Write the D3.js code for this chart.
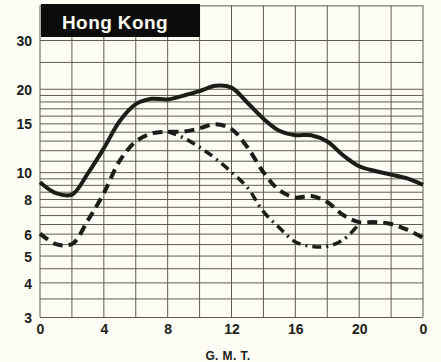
<!DOCTYPE html>
<html>
<head>
<meta charset="utf-8">
<script src="https://cdn.jsdelivr.net/npm/d3@7"></script>
<style>
  body { margin: 0; background: #fdfdf6; }
  svg { display: block; }
  .tick text { font-family: "Liberation Sans", Arial, sans-serif; font-weight: bold; fill: #1c1c18; }
</style>
</head>
<body>
<div id="chart"></div>
<script>
// hours GMT
const hours = d3.range(0, 25);
// upper curve (solid)
const solidVals = [9.2, 8.4, 8.3, 9.9, 12.2, 15.3, 17.6, 18.4, 18.3, 18.9, 19.6, 20.5, 20.2, 17.8, 15.6, 14.1, 13.6, 13.6, 12.9, 11.5, 10.5, 10.1, 9.8, 9.5, 9.0];
// dashed curve
const dashedVals = [6.0, 5.5, 5.5, 6.7, 8.4, 11.0, 12.9, 13.8, 14.0, 14.0, 14.4, 14.9, 14.3, 12.3, 10.0, 8.6, 8.1, 8.2, 7.8, 7.0, 6.6, 6.6, 6.5, 6.2, 5.8];
// dash-dot branch (from 8h to 20h)
const dotHours = d3.range(8, 21);
const dotVals = [14.0, 13.3, 12.3, 11.2, 10.0, 8.8, 7.2, 6.3, 5.6, 5.4, 5.4, 5.7, 6.5];

const yTicks = [3, 4, 5, 6, 8, 10, 15, 20, 30];
const xTicks = [0, 4, 8, 12, 16, 20, 24];
const xGrid = d3.range(0, 25, 2);
const yGrid = [3, 3.5, 4, 4.5, 5, 5.5, 6, 6.5, 7, 7.5, 8, 8.5, 9, 9.5, 10, 11, 12, 13, 14, 15, 16, 17, 18, 19, 20, 25, 30, 40];

const width = 441;
const height = 362;
const padL = 40, padR = 423, padT = 40, padB = 317;

const svg = d3.select("#chart")
  .append("svg")
  .attr("width", width)
  .attr("height", height);

const x = d3.scaleLinear().domain([0, 24]).range([padL, padR]);
const y = d3.scaleLog().domain([3, 30]).range([padB, padT]);
const yTop = y(40);

// grid
const gridColor = "#5f5c4c";
svg.append("g")
  .attr("transform", `translate(${padL},0)`)
  .call(d3.axisLeft(y).tickValues(yGrid).tickSize(-(padR - padL)).tickFormat(""))
  .call(g => g.select(".domain").remove())
  .call(g => g.selectAll("line").attr("stroke", gridColor).attr("stroke-width", 1));

svg.append("g")
  .selectAll("line")
  .data(xGrid)
  .join("line")
  .attr("x1", d => x(d)).attr("x2", d => x(d))
  .attr("y1", yTop).attr("y2", padB)
  .attr("stroke", gridColor)
  .attr("stroke-width", 1);

// axes labels
svg.append("g")
  .attr("transform", `translate(${padL - 5},0)`)
  .call(d3.axisLeft(y).tickValues(yTicks).tickSize(0).tickFormat(d3.format("d")))
  .call(g => g.select(".domain").remove())
  .call(g => g.selectAll("text").attr("font-size", 14).attr("dy", "0.4em"));

svg.append("g")
  .attr("transform", `translate(0,${padB + 4})`)
  .call(d3.axisBottom(x).tickValues(xTicks).tickSize(0).tickFormat(d => d % 24))
  .call(g => g.select(".domain").remove())
  .call(g => g.selectAll("text").attr("font-size", 14));

svg.append("text")
  .attr("x", 228)
  .attr("y", 360)
  .attr("text-anchor", "middle")
  .attr("font-family", "Liberation Sans, Arial, sans-serif")
  .attr("font-size", 12)
  .attr("font-weight", "bold")
  .attr("letter-spacing", 0.4)
  .attr("fill", "#1c1c18")
  .text("G. M. T.");

// title box
svg.append("rect")
  .attr("x", 41).attr("y", 4)
  .attr("width", 159).attr("height", 33)
  .attr("fill", "#0c0c0a");
svg.append("text")
  .attr("x", 62)
  .attr("y", 29)
  .attr("font-family", "Liberation Sans, Arial, sans-serif")
  .attr("font-size", 19)
  .attr("font-weight", "bold")
  .attr("letter-spacing", 0.4)
  .attr("fill", "#fdfdf6")
  .text("Hong Kong");

// curves
const line = d3.line()
  .x(d => x(d[0]))
  .y(d => y(d[1]))
  .curve(d3.curveCatmullRom.alpha(0.5));

const ink = "#1d1d18";
svg.append("path")
  .attr("d", line(hours.map((h, i) => [h, solidVals[i]])))
  .attr("fill", "none")
  .attr("stroke", ink)
  .attr("stroke-width", 4);

svg.append("path")
  .attr("d", line(hours.map((h, i) => [h, dashedVals[i]])))
  .attr("fill", "none")
  .attr("stroke", ink)
  .attr("stroke-width", 4)
  .attr("stroke-dasharray", "10,6");

svg.append("path")
  .attr("d", line(dotHours.map((h, i) => [h, dotVals[i]])))
  .attr("fill", "none")
  .attr("stroke", ink)
  .attr("stroke-width", 3.5)
  .attr("stroke-dasharray", "9,5,2,5");
</script>
</body>
</html>
